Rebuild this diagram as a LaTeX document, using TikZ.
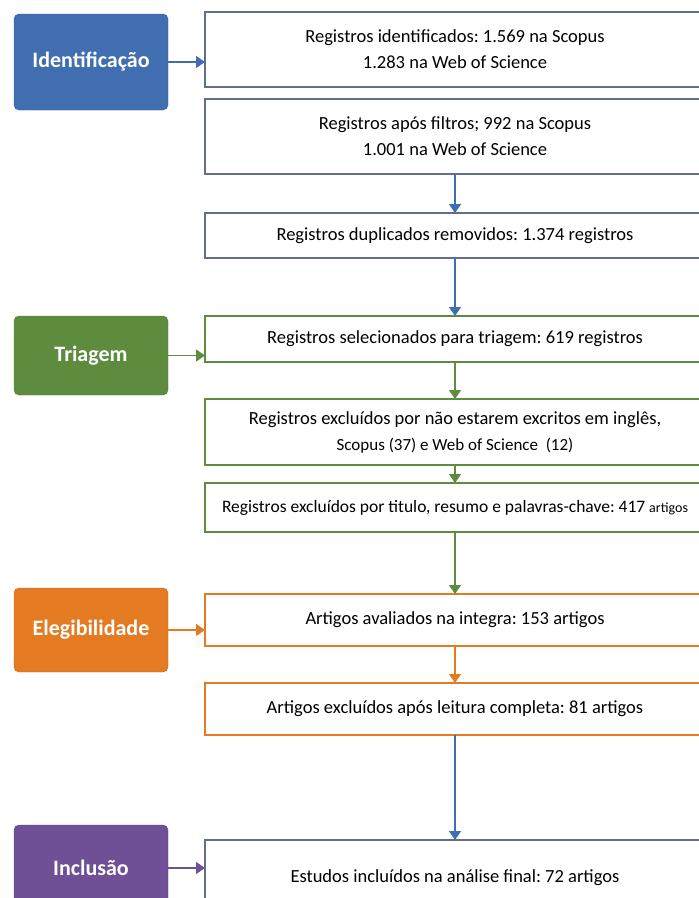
\documentclass[tikz,border=0pt]{standalone}
\usepackage{fontspec}
\setmainfont{Carlito}
\usetikzlibrary{positioning,arrows.meta}

\definecolor{azul}{RGB}{64,110,176}
\definecolor{verde}{RGB}{94,140,62}
\definecolor{laranja}{RGB}{228,123,35}
\definecolor{roxo}{RGB}{111,79,150}
\definecolor{cinza}{RGB}{96,112,136}

\frenchspacing
\begin{document}
\begin{tikzpicture}[x=1pt,y=-1pt,node distance=12pt,
    etapa/.style={draw=#1!85!black, fill=#1, rounded corners=5pt, text=white,
      font=\bfseries\fontsize{22}{24}\selectfont, minimum width=154pt},
    caixa/.style={draw=#1, line width=1.2pt, fill=white, minimum width=500pt,
      inner sep=0pt, outer sep=0pt, align=center, font=\fontsize{18.5}{26}\selectfont},
    seta/.style={draw=#1, line width=1.4pt, -{Triangle[width=12pt,length=9pt]}}]
	\clip (0,0) rectangle (699,898);
	\fill[white] (0,0) rectangle (699,898);

	% coluna principal
	\node[caixa=cinza, minimum height=75pt] (ident1) at (455,49.5) {Registros identificados: 1.569 na Scopus\\ 1.283 na Web of Science};
	\node[caixa=cinza, minimum height=75pt, below=12pt of ident1] (ident2) {Registros após filtros; 992 na Scopus\\ 1.001 na Web of Science};
	\node[caixa=cinza, minimum height=45pt, below=39pt of ident2] (dupl) {Registros duplicados removidos: 1.374 registros};
	\node[caixa=verde, minimum height=46pt, below=58pt of dupl] (selec) {Registros selecionados para triagem: 619 registros};
	\node[caixa=verde, minimum height=66pt, below=37pt of selec] (idioma) {Registros excluídos por não estarem excritos em inglês,\\ {\fontsize{17}{22}\selectfont Scopus (37) e Web of Science~ (12)}};
	\node[caixa=verde, minimum height=49pt, below=18pt of idioma] (titulo) {\fontsize{17.5}{22}\selectfont Registros excluídos por titulo, resumo e palavras-chave: 417 {\fontsize{14}{16}\selectfont artigos}};
	\node[caixa=laranja, minimum height=52pt, below=62pt of titulo] (integra) {Artigos avaliados na integra: 153 artigos};
	\node[caixa=laranja, minimum height=52pt, below=37pt of integra] (leitura) {Artigos excluídos após leitura completa: 81 artigos};
	\node[caixa=cinza, minimum height=76pt, below=105pt of leitura] (final) {Estudos incluídos na análise final: 72 artigos};

	% etapas
	\node[etapa=azul, minimum height=96pt] (identificacao) at (91,62) {Identificação};
	\node[etapa=verde, minimum height=79pt] (triagem) at (91,355.5) {Triagem};
	\node[etapa=laranja, minimum height=84pt] (elegib) at (91,630) {Elegibilidade};
	\node[etapa=roxo, minimum height=86pt] (inclusao) at (91,868) {Inclusão};

	\draw[seta=azul] (identificacao) -- (identificacao -| ident1.west);
	\draw[seta=verde] (triagem) -- (triagem -| selec.west);
	\draw[seta=laranja] (elegib) -- (elegib -| integra.west);
	\draw[seta=roxo] (inclusao) -- (inclusao -| final.west);

	\draw[seta=azul] (ident2) -- (dupl);
	\draw[seta=azul] (dupl) -- (selec);
	\draw[seta=verde] (selec) -- (idioma);
	\draw[seta=verde] (idioma) -- (titulo);
	\draw[seta=verde] (titulo) -- (integra);
	\draw[seta=laranja] (integra) -- (leitura);
	\draw[seta=azul] (leitura) -- (final);
\end{tikzpicture}
\end{document}
